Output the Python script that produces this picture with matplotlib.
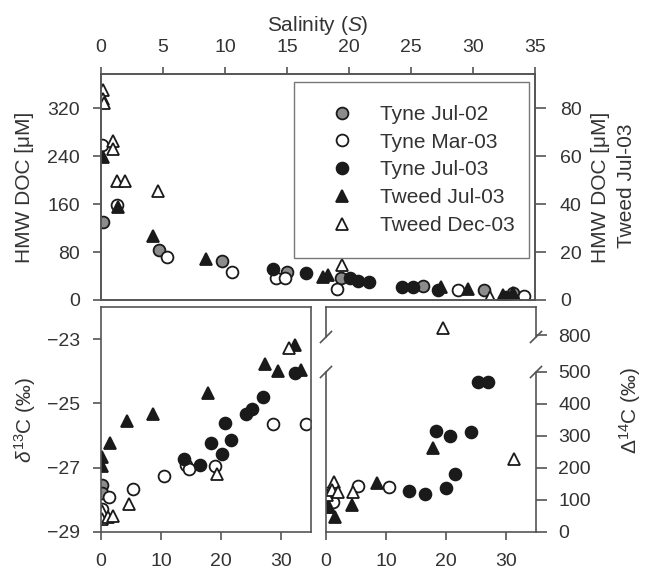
import numpy as np
import matplotlib.pyplot as plt
from matplotlib.lines import Line2D

plt.rcParams['font.family'] = ['Liberation Sans', 'DejaVu Sans']
plt.rcParams['mathtext.fontset'] = 'custom'
plt.rcParams['mathtext.rm'] = 'Liberation Sans'
plt.rcParams['mathtext.it'] = 'Liberation Sans:italic'

# ---- HMW DOC vs salinity (top panel) ----
doc_tj02_s = [0.15, 4.7, 9.75, 15.0, 19.35, 26.0, 30.9, 33.2]
doc_tj02_v = [130, 83, 65, 47, 37, 23, 17, 12]

doc_tm03_s = [0.1, 1.3, 5.3, 10.6, 14.1, 14.8, 19.0, 28.8, 34.1]
doc_tm03_v = [258, 158, 72, 47, 37, 37, 18, 17, 7]

doc_tj03_s = [13.9, 16.5, 20.1, 20.7, 21.6, 24.3, 25.2, 27.2, 32.7]
doc_tj03_v = [52, 45, 37, 32, 30, 22, 22, 17, 5]

# Tweed Jul-03 is read on the right axis
doc_wj03_s = [0.15, 1.4, 4.2, 8.5, 17.9, 18.3, 27.4, 29.6, 32.4, 33.2]
doc_wj03_v = [59.5, 38.8, 26.7, 17.0, 9.5, 10.4, 5.5, 4.5, 2.0, 3.0]

doc_wd03_s = [0.15, 0.2, 0.25, 1.0, 1.0, 1.3, 1.95, 4.6, 19.4, 31.4]
doc_wd03_v = [350, 335, 328, 265, 252, 198, 198, 182, 58, 5]

# ---- delta 13C ----
d13_tj02_s = [0.15, 0.15]
d13_tj02_v = [-27.54, -27.8]

d13_tm03_s = [1.35, 0.15, 5.3, 10.5, 14.1, 14.7, 19.0, 28.7, 34.2]
d13_tm03_v = [-27.9, -28.29, -27.67, -27.26, -26.9, -27.05, -26.95, -25.65, -25.65]

d13_tj03_s = [13.9, 16.5, 18.3, 20.2, 20.6, 21.6, 24.2, 25.1, 27.0, 32.3]
d13_tj03_v = [-26.74, -26.9, -26.24, -26.58, -25.62, -26.15, -25.34, -25.16, -24.81, -24.04]

d13_wj03_s = [0.15, 0.15, 1.5, 4.3, 8.7, 17.8, 27.3, 29.5, 32.3, 33.3]
d13_wj03_v = [-26.67, -26.95, -26.24, -25.56, -25.34, -24.69, -23.76, -24.0, -23.17, -23.95]

d13_wd03_s = [31.3, 19.3, 4.7, 0.1, 0.1, 1.2, 2.0]
d13_wd03_v = [-23.26, -27.2, -28.13, -28.35, -28.6, -28.53, -28.5]

# ---- Delta 14C ----
d14_tm03_s = [0.1, 5.3, 10.5, 1.2]
d14_tm03_v = [122, 144, 141, 94]

d14_tj03_s = [13.8, 16.5, 18.3, 20.0, 20.7, 21.5, 24.2, 25.4, 27.0]
d14_tj03_v = [128, 118, 316, 137, 300, 181, 312, 469, 469]

d14_wj03_s = [0.1, 0.5, 1.5, 4.3, 8.5, 17.8]
d14_wj03_v = [78, 78, 47, 84, 153, 262]

d14_wd03_s = [19.5, 31.3, 1.3, 0.1, 1.0, 2.0, 4.5]
d14_wd03_v = [822, 228, 156, 115, 131, 125, 125]

TXT = '#333333'
SPN = '#555555'
EDGE = '#1a1a1a'
styles = {
    'Tyne Jul-02': dict(marker='o', mfc='#8c8c8c', mec=EDGE),
    'Tyne Mar-03': dict(marker='o', mfc='white', mec=EDGE),
    'Tyne Jul-03': dict(marker='o', mfc=EDGE, mec=EDGE),
    'Tweed Jul-03': dict(marker='^', mfc=EDGE, mec=EDGE),
    'Tweed Dec-03': dict(marker='^', mfc='white', mec=EDGE),
}
MS = 8.5


def pts(ax, s, v, name):
    ax.plot(s, v, ls='none', ms=MS, mew=1.3, **styles[name])


def style_ax(ax):
    for sp in ax.spines.values():
        sp.set_color(SPN)
        sp.set_linewidth(1.2)
    ax.tick_params(colors=SPN, labelcolor=TXT, labelsize=14, width=1.2,
                   length=6, pad=9, direction='out')


fig = plt.figure(figsize=(6.5, 5.69), dpi=100)


def box(l, t, r, b):
    return [l / 650, 1 - b / 569, (r - l) / 650, (b - t) / 569]


# top panel
ax = fig.add_axes(box(101, 74, 535, 300))
axr = ax.twinx()
for a in (ax, axr):
    style_ax(a)
ax.set_xlim(0, 35)
ax.set_ylim(0, 377)
axr.set_ylim(0, 377 / 4)
ax.xaxis.tick_top()
ax.xaxis.set_label_position('top')
ax.set_xticks(range(0, 36, 5))
ax.set_yticks([0, 80, 160, 240, 320])
axr.set_yticks([0, 20, 40, 60, 80])
ax.tick_params(axis='x', pad=8, length=5)
axr.tick_params(axis='y', length=8, pad=10)
ax.set_xlabel(r'Salinity ($\it{S}$)', fontsize=15, color=TXT, labelpad=6)

pts(ax, doc_tj02_s, doc_tj02_v, 'Tyne Jul-02')
pts(ax, doc_tm03_s, doc_tm03_v, 'Tyne Mar-03')
pts(ax, doc_tj03_s, doc_tj03_v, 'Tyne Jul-03')
pts(ax, doc_wd03_s, doc_wd03_v, 'Tweed Dec-03')
pts(axr, doc_wj03_s, doc_wj03_v, 'Tweed Jul-03')

handles = [Line2D([], [], ls='none', ms=MS, mew=1.3, **styles[k]) for k in styles]
leg = axr.legend(handles, list(styles), loc='upper left',
                 bbox_to_anchor=(0.445, 0.208, 0.541, 0.757), mode='expand',
                 fontsize=15, frameon=True, fancybox=False, framealpha=1,
                 edgecolor='#777777', borderpad=1.1, labelspacing=0.42,
                 handlelength=2.4, handletextpad=0.6, borderaxespad=0)
for t in leg.get_texts():
    t.set_color(TXT)
leg.get_frame().set_linewidth(1.0)

fig.text(25 / 650, 1 - 187 / 569, 'HMW DOC [μM]', rotation=90, fontsize=15,
         color=TXT, ha='center', va='center')
fig.text(600 / 650, 1 - 187 / 569, 'HMW DOC [μM]', rotation=90, fontsize=15,
         color=TXT, ha='center', va='center')
fig.text(626 / 650, 1 - 186 / 569, 'Tweed Jul-03', rotation=90, fontsize=15,
         color=TXT, ha='center', va='center')

# lower left: delta 13C
axl = fig.add_axes(box(101, 307, 311, 532))
style_ax(axl)
axl.set_xlim(0, 35)
axl.set_ylim(-29, -22)
axl.set_xticks([0, 10, 20, 30])
axl.set_yticks([-29, -27, -25, -23])
axl.tick_params(axis='x', pad=9)
pts(axl, d13_tj02_s, d13_tj02_v, 'Tyne Jul-02')
pts(axl, d13_tm03_s, d13_tm03_v, 'Tyne Mar-03')
pts(axl, d13_tj03_s, d13_tj03_v, 'Tyne Jul-03')
pts(axl, d13_wj03_s, d13_wj03_v, 'Tweed Jul-03')
pts(axl, d13_wd03_s, d13_wd03_v, 'Tweed Dec-03')
fig.text(25 / 650, 1 - 420 / 569, r'$\delta^{13}$C (‰)', rotation=90,
         fontsize=15, color=TXT, ha='center', va='center')

# lower right: Delta 14C with broken axis
axt = fig.add_axes(box(326, 307, 536, 337))
axb = fig.add_axes(box(326, 372, 536, 532))
for a in (axt, axb):
    style_ax(a)
    a.set_xlim(0, 35)
    a.yaxis.tick_right()
    a.tick_params(axis='y', length=8, pad=8)
axt.set_ylim(794, 887.5)
axb.set_ylim(0, 500)
axt.set_yticks([800])
axb.set_yticks([0, 100, 200, 300, 400, 500])
axt.set_xticks([])
axb.set_xticks([0, 10, 20, 30])
axb.tick_params(axis='x', pad=9)
axt.spines['bottom'].set_visible(False)
axb.spines['top'].set_visible(False)
for a in (axt, axb):
    pts(a, d14_tm03_s, d14_tm03_v, 'Tyne Mar-03')
    pts(a, d14_tj03_s, d14_tj03_v, 'Tyne Jul-03')
    pts(a, d14_wj03_s, d14_wj03_v, 'Tweed Jul-03')
    pts(a, d14_wd03_s, d14_wd03_v, 'Tweed Dec-03')

# break marks
dx = 5.5 / 210
for a, hpx in ((axt, 30), (axb, 160)):
    dy = 5.5 / hpx
    y0 = 0 if a is axt else 1
    for x0 in (0, 1):
        a.plot([x0 - dx, x0 + dx], [y0 - dy, y0 + dy], transform=a.transAxes,
               color=SPN, lw=1.2, clip_on=False)

fig.text(630 / 650, 1 - 410 / 569, r'$\Delta^{14}$C (‰)', rotation=90,
         fontsize=15, color=TXT, ha='center', va='center')

fig.savefig('out.png', dpi=100)
